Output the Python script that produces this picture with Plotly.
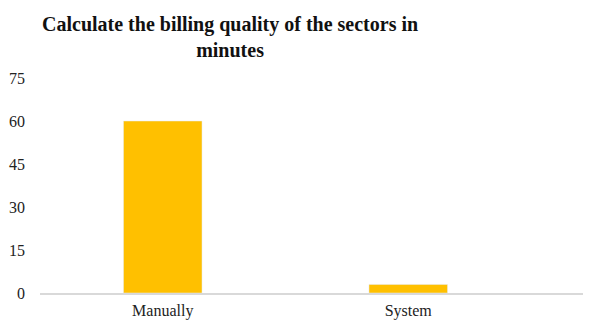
import plotly.graph_objects as go

categories = ["Manually", "System"]
values = [60, 3]
y_ticks = [0, 15, 30, 45, 60, 75]

fig = go.Figure(go.Bar(x=categories, y=values, marker_color="#FFC000", width=0.32))

# page has an 8px body margin; compensate so the plot lands where the reference has it
L, T, B = 32, 70, 38
plot_h = 323 - T - B
plot_w = 591 - L

fig.update_layout(
    width=591, height=323,
    margin=dict(l=L, r=0, t=T, b=B, autoexpand=False),
    paper_bgcolor="white", plot_bgcolor="white",
    font=dict(family="Liberation Serif, Times New Roman, serif", size=16, color="#222"),
    showlegend=False,
    annotations=[dict(
        text="<b>Calculate the billing quality of the sectors in<br>minutes</b>",
        xref="paper", yref="paper", x=(222 - L) / plot_w, y=1 + (T - 3) / plot_h,
        xanchor="center", yanchor="top", showarrow=False, align="center",
        font=dict(size=20, color="#111"),
    )],
)
fig.update_xaxes(range=[-0.5, 1.777], showline=True, linecolor="#d9d9d9", linewidth=2,
                 showgrid=False, ticks="", ticklabelstandoff=2, tickfont=dict(size=16))
fig.update_yaxes(range=[0, 75], tickvals=y_ticks, showgrid=False, zeroline=False,
                 showline=False, ticks="", ticklabelstandoff=14, tickfont=dict(size=16))

fig.write_html("out.html")
